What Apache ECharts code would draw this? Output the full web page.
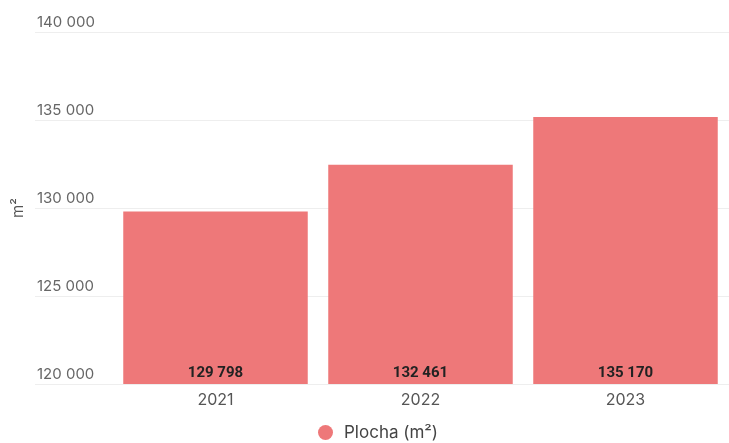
<!DOCTYPE html>
<html><head><meta charset="utf-8">
<script src="https://cdn.jsdelivr.net/npm/echarts@6/dist/echarts.min.js"></script>
<style>html,body{margin:0;padding:0;background:#fff}#c{width:729px;height:443px}</style>
</head><body><div id="c"></div>
<script>
const categories = ['2021', '2022', '2023'];
const values = [129798, 132461, 135170];
const seriesName = 'Plocha (m²)';
const yName = 'm²';
const yMin = 120000, yMax = 140000, yStep = 5000;

const fmt = v => String(v).replace(/\B(?=(\d{3})+(?!\d))/g, ' ');
const chart = echarts.init(document.getElementById('c'));
chart.setOption({
  animation: false,
  textStyle: { fontFamily: 'Inter' },
  grid: [
    { left: 35, right: 0, top: 32, bottom: 59 },
    { left: 113, right: 1, top: 32, bottom: 59 }
  ],
  legend: {
    top: 424, left: 318, padding: 0, icon: 'circle', itemWidth: 15, itemHeight: 15, itemGap: 10,
    textStyle: { fontSize: 17, color: '#444', fontFamily: 'Inter', padding: [0, 0, 0, 6] },
    data: [seriesName]
  },
  xAxis: [
    { gridIndex: 0, type: 'category', data: categories, show: false },
    { gridIndex: 1, type: 'category', data: categories,
      axisLine: { show: false }, axisTick: { show: false },
      axisLabel: { fontSize: 16, color: '#555', margin: 8, fontFamily: 'Inter' } }
  ],
  yAxis: [
    { gridIndex: 0, type: 'value', min: yMin, max: yMax, interval: yStep,
      name: yName, nameLocation: 'middle', nameGap: 7,
      nameTextStyle: { fontSize: 15, color: '#555', fontFamily: 'Inter' },
      axisLine: { show: false }, axisTick: { show: false },
      splitLine: { lineStyle: { color: '#eeeeee', width: 1 } },
      axisLabel: { inside: true, margin: 2, align: 'left', verticalAlign: 'bottom',
        padding: [0, 0, 2, 0], fontSize: 15, color: '#666', fontFamily: 'Inter', formatter: v => fmt(v) } },
    { gridIndex: 1, type: 'value', min: yMin, max: yMax, interval: yStep, show: false,
      splitLine: { show: false } }
  ],
  series: [{
    name: seriesName, type: 'bar', xAxisIndex: 1, yAxisIndex: 1,
    data: values, barCategoryGap: '10%',
    itemStyle: { color: '#EE7879' },
    label: { show: true, position: 'insideBottom', distance: 3,
      fontSize: 15, fontWeight: 'bold', color: '#222', fontFamily: 'Roboto', formatter: p => fmt(p.value) }
  }]
});
</script></body></html>
